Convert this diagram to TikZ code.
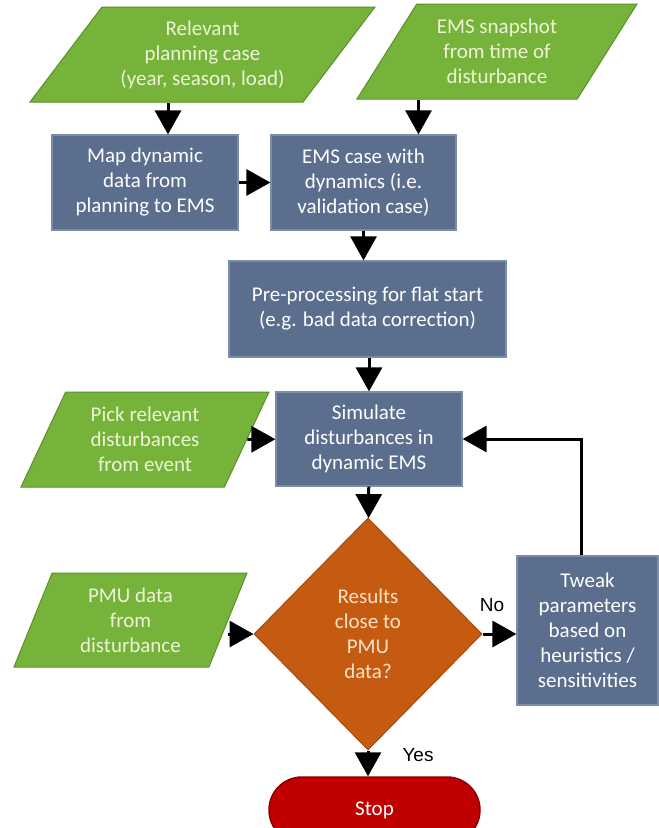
\documentclass[tikz,border=0pt]{standalone}
\usepackage{fontspec}
\setmainfont{Carlito}
\newfontfamily\arialfont{Liberation Sans}
\usetikzlibrary{shapes.geometric,arrows.meta}

\definecolor{iogreen}{HTML}{76B33A}
\definecolor{iodark}{HTML}{5C8F2C}
\definecolor{iotext}{HTML}{EEF4D6}
\definecolor{procblue}{HTML}{5B6E8D}
\definecolor{procedge}{HTML}{7C8DA8}
\definecolor{checkorange}{HTML}{C55A11}
\definecolor{checktext}{HTML}{FBE2C6}
\definecolor{stopred}{HTML}{C00000}
\definecolor{stopdark}{HTML}{8A0000}

\begin{document}
\begin{tikzpicture}[x=1pt, y=-1pt,
    every node/.style={font=\fontsize{21}{25}\selectfont, align=center},
    data/.style 2 args={trapezium, trapezium left angle=#1, trapezium right angle=#2,
                 trapezium stretches body, draw=iodark, line width=1pt,
                 fill=iogreen, text=iotext, inner sep=2pt},
    proc/.style={draw=procedge, line width=1.2pt, fill=procblue, text=white, inner sep=2pt},
    check/.style={diamond, draw=checkorange!85!black, line width=1pt, fill=checkorange,
                  text=checktext, inner sep=0pt},
    stopbox/.style={draw=stopdark, line width=1.5pt, fill=stopred, text=white,
                    rounded corners=33pt},
    edge/.style={-{Triangle[width=26pt,length=24pt]}, line width=3pt},
    lbl/.style={font=\arialfont\fontsize{19}{22}\selectfont, text=black}
]

\fill[white] (0,0) rectangle (659,828);
\useasboundingbox (0,0) rectangle (659,828);

\node[data={45}{135}, minimum width=345pt, minimum height=95pt] (plan) at (202.5,54.5)
    {Relevant\\planning case\\(year, season, load)};
\node[data={49}{131}, minimum width=280pt, minimum height=95pt] (snap) at (497,51.5)
    {EMS snapshot\\from time of\\disturbance};
\node[proc, minimum width=186pt, minimum height=95pt] (map) at (145,182.5)
    {Map dynamic\\data from\\planning to EMS};
\node[proc, minimum width=185pt, minimum height=95pt] (ems) at (363.5,182.5)
    {EMS case with\\dynamics (i.e.\\validation case)};
\node[proc, minimum width=277pt, minimum height=96pt] (pre) at (367.5,309)
    {Pre-processing for flat start\\(e.g. bad data correction)};
\node[data={57}{123}, minimum width=248pt, minimum height=95pt] (pick) at (145,439.5)
    {Pick relevant\\disturbances\\from event};
\node[proc, minimum width=186pt, minimum height=94pt] (sim) at (369,439)
    {Simulate\\disturbances in\\dynamic EMS};
\node[data={61}{119}, minimum width=233pt, minimum height=94pt] (pmu) at (130.5,620)
    {PMU data\\from\\disturbance};
\node[check, minimum width=228pt, minimum height=232pt] (dia) at (368,634)
    {Results\\close to\\PMU\\data?};
\node[proc, minimum width=141pt, minimum height=149pt] (tweak) at (587.5,630.5)
    {Tweak\\parameters\\based on\\heuristics /\\sensitivities};
\node[stopbox, minimum width=211pt, minimum height=66pt] (stop) at (374.5,810) {Stop};

\node[lbl] (no) at (492,605) {No};
\node[lbl] (yes) at (418,755) {Yes};

\draw[edge] ([xshift=23pt]map.north |- plan.south) -- ([xshift=23pt]map.north);
\draw[edge] ([xshift=55pt]ems.north |- snap.south) -- ([xshift=55pt]ems.north);
\draw[edge] (map) -- (ems);
\draw[edge] (ems.south) -- (ems.south |- pre.north);
\draw[edge] (sim.north |- pre.south) -- (sim.north);
\draw[edge] (pick) -- (sim);
\draw[edge] (sim) -- (dia);
\draw[edge] (pmu.east |- dia.west) -- (dia.west);
\draw[edge] (dia.east) -- (dia.east -| tweak.west);
\draw[edge] ([xshift=-6pt]tweak.north) |- (sim.east);
\draw[edge] (dia.south) -- (dia.south |- stop.north);

\end{tikzpicture}
\end{document}
